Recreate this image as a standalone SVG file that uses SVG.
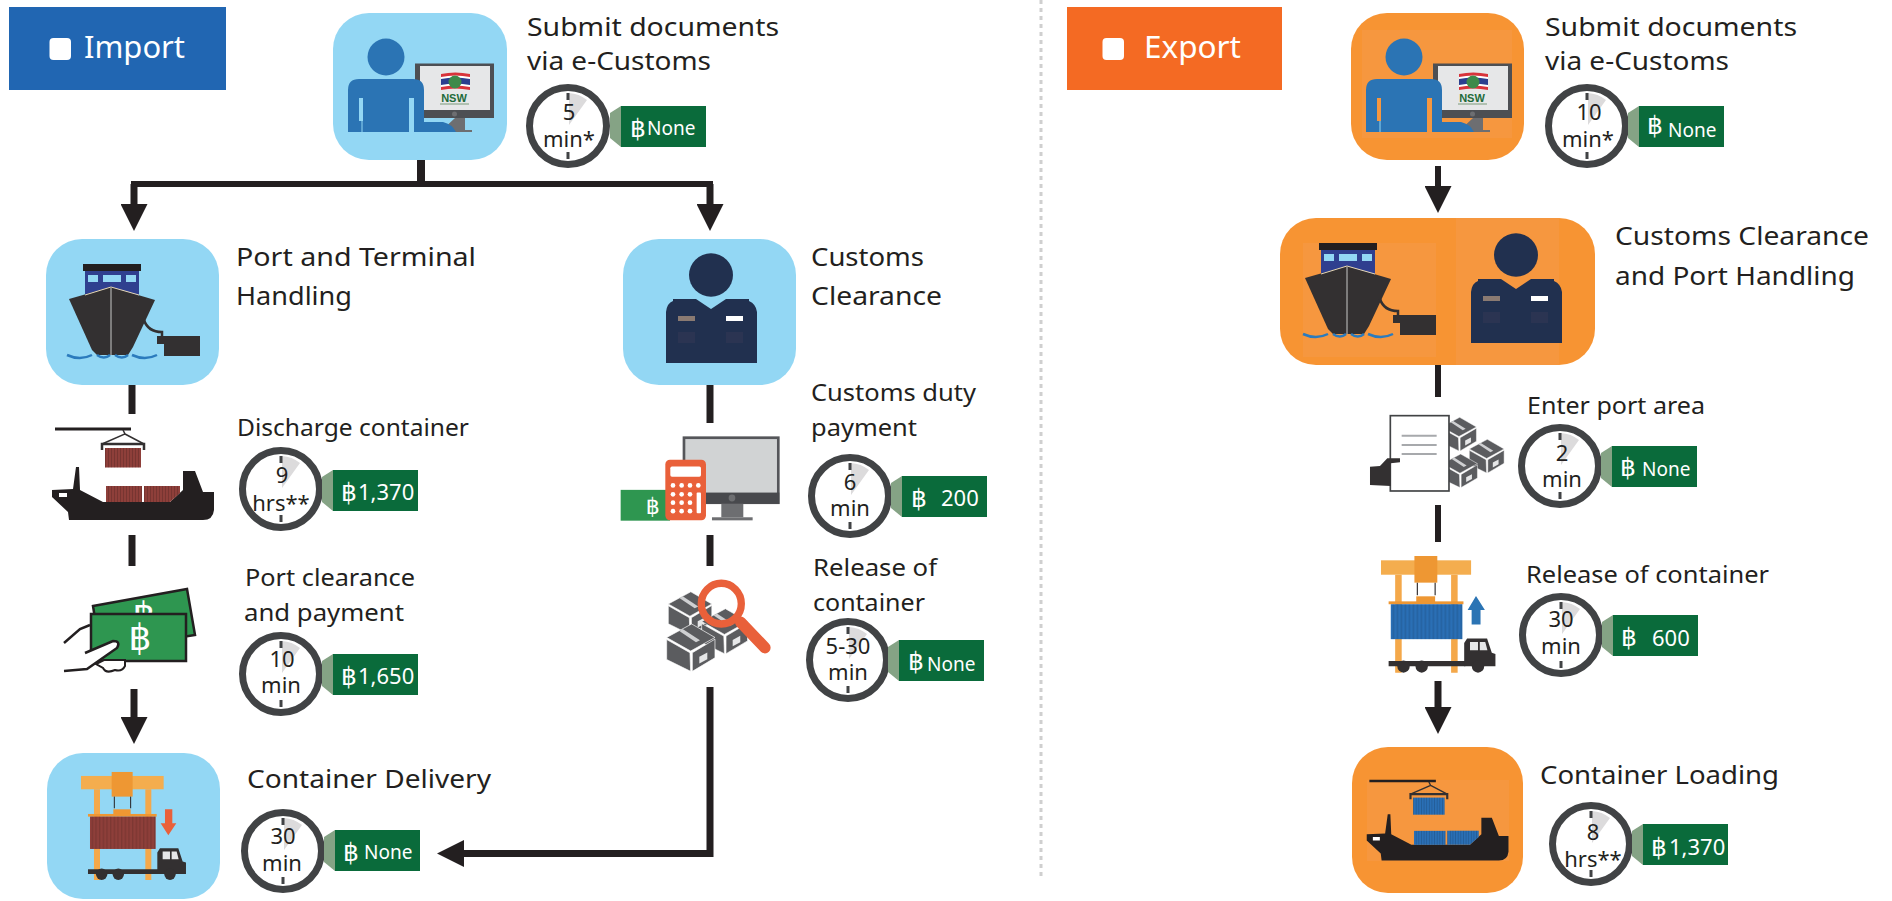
<svg xmlns="http://www.w3.org/2000/svg" width="1892" height="901" viewBox="0 0 1892 901">
<style>
text{font-family:"Noto Sans","Open Sans","DejaVu Sans",sans-serif;fill:#231f20}
.l26{font-size:26px}.l24{font-size:24px}
.badge{font-size:30px;fill:#fff}
.c{font-size:22px;text-anchor:middle}
.t{font-size:19px;fill:#fff}.n{font-size:22px;fill:#fff}
.b{font-family:"DejaVu Sans",sans-serif;font-size:25px;fill:#fff}
.blue{fill:#93d7f4}.orange{fill:#f79433}.panel{fill:#f6973f}
.conn{fill:none;stroke:#231f20;stroke-width:7}
</style>
<defs>
<marker id="arrow" viewBox="0 0 27 27" refX="0" refY="13.5" markerWidth="27" markerHeight="27" markerUnits="userSpaceOnUse" orient="auto"><path d="M0 0L27 13.5L0 27Z" fill="#231f20"/></marker>
<pattern id="ribs" width="3" height="10" patternUnits="userSpaceOnUse"><rect width="1" height="10" fill="#000" opacity=".16"/></pattern>
<pattern id="ribsBig" width="11" height="10" patternUnits="userSpaceOnUse"><rect width="4" height="10" fill="#000" opacity=".12"/></pattern>
<g id="clock"><circle r="38.5" fill="#fff" stroke="#414345" stroke-width="7"/><path d="M1 -1V-33A33 33 0 0 1 19 -26Z" fill="#dcdbdc"/><path d="M0 -33V-26M0 26V33" stroke="#414345" stroke-width="3" fill="none"/></g>
<g id="tag"><path d="M-11 7L0 0V41L-11 32Z" fill="#85a385"/><rect width="85" height="41" fill="#0a6b3b"/></g>
<g id="person">
<rect x="415" y="63.500" width="79" height="54.500" fill="#4d4f53"/><rect x="420" y="66" width="70" height="44" fill="#e6e7e8"/>
<circle cx="454.500" cy="114" r="2.500" fill="#6d6e71"/><path d="M455 118H465V130H472V132H440Z" fill="#6d6e71"/>
<path d="M441 74Q455 71 470 74V90Q455 87 441 90Z" fill="#d8333a"/><path d="M441 77Q455 74 470 77V87Q455 84 441 87Z" fill="#fff"/><path d="M441 79Q455 76 470 79V85Q455 82 441 85Z" fill="#2b3f8f"/><circle cx="455" cy="82" r="6.500" fill="#3d8a4a"/>
<text x="454" y="102" text-anchor="middle" style="font-size:11px;font-weight:700;fill:#1f6b3a;font-family:'Liberation Sans',sans-serif">NSW</text><path d="M440 104H469" stroke="#7a9a7a" stroke-width="1"/>
<circle cx="386" cy="57" r="18.500" fill="#2b74b4"/>
<path fill-rule="evenodd" d="M348 90Q348 79 359 79H413Q424 79 424 90V122H443Q452 124 456 132H414V98H409V132H348ZM359 98H363V121H359Z" fill="#2b74b4"/><path d="M362 121V132" stroke="#93d7f4" stroke-width="1"/>
</g>
<g id="shipfront">
<rect x="83" y="264" width="58" height="7" fill="#231f20"/><rect x="85" y="271" width="54" height="24" fill="#2f3f8f"/>
<rect x="88" y="275" width="10" height="7" fill="#93d7f4"/><rect x="103" y="275" width="18" height="7" fill="#93d7f4"/><rect x="126" y="275" width="10" height="7" fill="#93d7f4"/>
<path d="M111 287L155 300L133 347L128 355H97L92 350L69 299Z" fill="#333031"/><path d="M85 295L111 287L139 295" fill="none" stroke="#e8d9b8" stroke-width="1"/><path d="M111 288V355" stroke="#c9c9c9" stroke-width="1"/>
<path d="M144 320Q148 332 162 332V338" fill="none" stroke="#333031" stroke-width="2.500"/>
<path d="M157 336H200V356H164V344H157Z" fill="#333031"/>
<path d="M67 355Q80 361 92 355M97 355Q104 360 110 355M115 355Q122 360 128 355M132 355Q145 361 157 355" fill="none" stroke="#2b7bbd" stroke-width="2.500"/>
</g>
<g id="officer">
<ellipse cx="711" cy="275" rx="22" ry="21.700" fill="#21304f"/>
<path d="M666 312Q667 303 673 301V299H696L702 303L711 309L720 303L726 299H749V301Q756 304 757 312V363H666Z" fill="#21304f"/>
<rect x="678" y="316" width="17" height="5" fill="#8a7a72"/><rect x="726" y="316" width="17" height="5" fill="#fff"/>
<rect x="678" y="332" width="17" height="11" fill="#2b3452"/><rect x="726" y="332" width="17" height="11" fill="#2b3452"/>
</g>
<g id="cargoship">
<path d="M55 429H131" stroke="#231f20" stroke-width="3"/>
<path d="M123 430L125 434L102 444H144L125 434" fill="none" stroke="#333031" stroke-width="1.500"/>
<path d="M102 450V444H144V450" fill="none" stroke="#333031" stroke-width="2.500"/>
<rect x="105" y="448" width="36" height="19.500" fill="currentColor"/><rect x="105" y="448" width="36" height="19.500" fill="url(#ribs)"/>
<path d="M52 490L73 489L76 467H79L80 490L103 502H170L183 490L183 471H195L203 492H214V510Q213 520 203 520H69L68 512L52 497Z" fill="#231f20"/>
<rect x="59" y="493" width="8" height="4" fill="#fff"/>
<rect x="106" y="486" width="36" height="16" fill="currentColor"/><rect x="106" y="486" width="36" height="16" fill="url(#ribs)"/>
<path d="M144 486H180V493L170 502H144Z" fill="currentColor"/><path d="M144 486H180V493L170 502H144Z" fill="url(#ribs)"/>
</g>
<g id="crane">
<path d="M282 1168H300V1440H282ZM436 1168H454V1440H436Z" fill="#f4a84a"/>
<rect x="243" y="1128" width="248" height="40" fill="#f4ad4e"/><rect x="335" y="1116" width="63" height="74" fill="#ee9733"/>
<path d="M343 1190V1225M392 1190V1225" stroke="#231f20" stroke-width="3"/>
<path d="M340 1245V1228H392V1245Z" fill="#ee9733"/><rect x="264" y="1242" width="206" height="8" fill="#ee9733"/>
<rect x="270" y="1250" width="197" height="97" fill="currentColor"/><rect x="270" y="1250" width="197" height="97" fill="url(#ribsBig)"/>
<path d="M264 1408H475V1422H264Z" fill="#333031"/>
<path d="M472 1422V1358L480 1345H535L548 1385L558 1388V1422Z" fill="#333031"/><path d="M488 1355H510V1378H488ZM515 1355H530L536 1378H515Z" fill="#e6e7e8"/>
<circle cx="305" cy="1423" r="17" fill="#333031"/><circle cx="355" cy="1423" r="17" fill="#333031"/><circle cx="510" cy="1423" r="17" fill="#333031"/>
</g>
<g id="box" stroke="#fff" stroke-width="2">
<path d="M0 40L75 0L145 40L72 80Z" fill="#5b5c5f"/><path d="M38 21L48 15L100 48L88 54Z" fill="#cfd0d2" stroke="none"/>
<path d="M0 46L70 85L72 140L0 105Z" fill="#5b5c5f"/><path d="M77 85L145 45V100L77 140Z" fill="#5b5c5f"/>
<path d="M98 97L122 84V104L98 117Z" fill="#e6e7e8" stroke="none"/>
</g>
</defs>

<path d="M1041 0V880" stroke="#cfcfcf" stroke-width="3" stroke-dasharray="4 4" fill="none"/>

<g id="connectors" class="conn">
<path d="M421 160V184" stroke-width="8"/>
<path d="M131 184H713" stroke-width="6"/>
<path d="M134 184V204" marker-end="url(#arrow)"/>
<path d="M710 184V204" marker-end="url(#arrow)"/>
<path d="M132 385V414"/>
<path d="M132 535V566"/>
<path d="M134 689V717" marker-end="url(#arrow)"/>
<path d="M710 385V423"/>
<path d="M710 535V566"/>
<path d="M710 687V853.500H464" marker-end="url(#arrow)"/>
<path d="M1438 166V186" stroke-width="6" marker-end="url(#arrow)"/>
<path d="M1438 363V397" stroke-width="6"/>
<path d="M1438 505V542" stroke-width="6"/>
<path d="M1438 681V707" stroke-width="7" marker-end="url(#arrow)"/>
</g>

<g id="badge-import"><rect x="9" y="7" width="217" height="83" fill="#2166b2"/><rect x="49.500" y="38" width="21.500" height="22" rx="4" fill="#fff"/><text class="badge" x="84" y="58" textLength="101" lengthAdjust="spacingAndGlyphs">Import</text></g>
<g id="badge-export"><rect x="1067" y="7" width="215" height="83" fill="#f46a23"/><rect x="1102.500" y="38" width="21.500" height="22" rx="4" fill="#fff"/><text class="badge" x="1144" y="58" textLength="97" lengthAdjust="spacingAndGlyphs">Export</text></g>

<g id="import-submit"><rect class="blue" x="333" y="13" width="174" height="147" rx="36"/><use href="#person"/>
<text class="l26" x="527" y="36" textLength="252" lengthAdjust="spacingAndGlyphs">Submit documents</text><text class="l26" x="527" y="70" textLength="184" lengthAdjust="spacingAndGlyphs">via e-Customs</text>
<use href="#clock" x="568" y="126"/><text class="c" x="569" y="120">5</text><text class="c" x="569" y="147">min*</text>
<use href="#tag" x="621" y="106"/><text y="135"><tspan class="b" x="630" y="137">฿</tspan><tspan class="t" x="647" y="135">None</tspan></text></g>

<g id="import-port"><rect class="blue" x="46" y="239" width="173" height="146" rx="36"/><use href="#shipfront"/>
<text class="l26" x="236" y="266" textLength="240" lengthAdjust="spacingAndGlyphs">Port and Terminal</text><text class="l26" x="236" y="305" textLength="116" lengthAdjust="spacingAndGlyphs">Handling</text></g>

<g id="import-customs"><rect class="blue" x="623" y="239" width="173" height="146" rx="36"/><use href="#officer"/>
<text class="l26" x="811" y="266" textLength="113" lengthAdjust="spacingAndGlyphs">Customs</text><text class="l26" x="811" y="305" textLength="131" lengthAdjust="spacingAndGlyphs">Clearance</text></g>

<g id="import-discharge"><use href="#cargoship" style="color:#8e3f3a"/>
<text class="l24" x="237" y="436" textLength="232" lengthAdjust="spacingAndGlyphs">Discharge container</text>
<use href="#clock" x="281" y="489"/><text class="c" x="282" y="483">9</text><text class="c" x="281" y="511">hrs**</text>
<use href="#tag" x="333" y="470"/><text y="500"><tspan class="b" x="341" y="501">฿</tspan><tspan class="n" x="358" y="500">1,370</tspan></text></g>

<g id="import-clearance">
<path d="M93 606L187 589L195 635L100 650Z" fill="#2e9650" stroke="#231f20" stroke-width="2.500"/>
<text x="144" y="628" text-anchor="middle" style="font-family:'DejaVu Sans',sans-serif;font-size:36px;fill:#fff">฿</text>
<rect x="91" y="614" width="95" height="47" fill="#2e9650" stroke="#231f20" stroke-width="2.500"/>
<text x="140" y="650" text-anchor="middle" style="font-family:'DejaVu Sans',sans-serif;font-size:36px;fill:#fff">฿</text>
<path d="M64 643L80 629L90 625" fill="none" stroke="#231f20" stroke-width="2.500"/>
<path d="M64 671L87 669L117 648Q121 641 113 641L85 653" fill="#fff" stroke="#231f20" stroke-width="2.500"/>
<path d="M96 664L104 660H125V666Q122 672 115 670Q106 674 103 668Z" fill="#fff" stroke="#231f20" stroke-width="2"/>
<text class="l24" x="245" y="586" textLength="170" lengthAdjust="spacingAndGlyphs">Port clearance</text><text class="l24" x="244" y="621" textLength="160" lengthAdjust="spacingAndGlyphs">and payment</text>
<use href="#clock" x="281" y="674"/><text class="c" x="282" y="667">10</text><text class="c" x="281" y="693">min</text>
<use href="#tag" x="333" y="654"/><text y="684"><tspan class="b" x="341" y="685">฿</tspan><tspan class="n" x="358" y="684">1,650</tspan></text></g>

<g id="import-delivery"><rect class="blue" x="47" y="753" width="173" height="146" rx="36"/><g transform="matrix(.3333 0 0 .3333 0 400)" style="color:#8e3f3a"><use href="#crane"/><path d="M495 1228H517V1270H529L505 1306L482 1270H495Z" fill="#e9603a"/></g>
<text class="l26" x="247" y="788" textLength="244" lengthAdjust="spacingAndGlyphs">Container Delivery</text>
<use href="#clock" x="283" y="851"/><text class="c" x="283" y="844">30</text><text class="c" x="282" y="871">min</text>
<use href="#tag" x="335" y="830"/><text y="859"><tspan class="b" x="343" y="861">฿</tspan><tspan class="t" x="364" y="859">None</tspan></text></g>

<g id="import-duty"><g transform="matrix(.3333 0 0 .3386 500 370)">
<rect x="552" y="200" width="283" height="192" fill="#d1d3d4" stroke="#55565a" stroke-width="8"/><rect x="618" y="362" width="220" height="33" fill="#48494d"/><circle cx="696" cy="378" r="10" fill="#6d6e71"/><rect x="664" y="395" width="66" height="40" fill="#6d6e71"/><rect x="636" y="435" width="122" height="9" fill="#6d6e71"/>
<rect x="362" y="354" width="148" height="91" fill="#2e9650"/><text x="458" y="425" text-anchor="middle" style="font-family:'DejaVu Sans',sans-serif;font-size:66px;fill:#fff">฿</text>
<rect x="496" y="265" width="122" height="179" rx="14" fill="#e9603a"/><rect x="511" y="285" width="92" height="30" rx="5" fill="#fff"/>
<g fill="#fff"><circle cx="519" cy="341" r="7"/><circle cx="545" cy="341" r="7"/><circle cx="570" cy="341" r="7"/><circle cx="595" cy="341" r="7"/><circle cx="519" cy="367" r="7"/><circle cx="545" cy="367" r="7"/><circle cx="570" cy="367" r="7"/><circle cx="519" cy="392" r="7"/><circle cx="545" cy="392" r="7"/><circle cx="570" cy="392" r="7"/><circle cx="519" cy="417" r="7"/><circle cx="545" cy="417" r="7"/><circle cx="570" cy="417" r="7"/><rect x="590" y="362" width="13" height="61" rx="3"/></g></g>
<text class="l24" x="811" y="401" textLength="165" lengthAdjust="spacingAndGlyphs">Customs duty</text><text class="l24" x="811" y="436" textLength="106" lengthAdjust="spacingAndGlyphs">payment</text>
<use href="#clock" x="850" y="496"/><text class="c" x="850" y="490">6</text><text class="c" x="850" y="516">min</text>
<use href="#tag" x="902" y="476"/><text y="506"><tspan class="b" x="911" y="507">฿</tspan><tspan class="n" x="941" y="506">200</tspan></text></g>

<g id="import-release"><g transform="matrix(.3333 0 0 .3386 500 370)">
<use href="#box" transform="translate(505 655) scale(.9)"/><use href="#box" transform="translate(605 705) scale(.95)"/><use href="#box" transform="translate(500 750)"/>
<circle cx="664" cy="690" r="60" fill="none" stroke="#e9603a" stroke-width="22"/><path d="M722 745L795 820" stroke="#e9603a" stroke-width="34" stroke-linecap="round"/></g>
<text class="l24" x="813" y="576" textLength="124" lengthAdjust="spacingAndGlyphs">Release of</text><text class="l24" x="813" y="611" textLength="112" lengthAdjust="spacingAndGlyphs">container</text>
<use href="#clock" x="848" y="660"/><text class="c" x="848" y="654">5-30</text><text class="c" x="848" y="680">min</text>
<use href="#tag" x="899" y="640"/><text y="671"><tspan class="b" x="908" y="670">฿</tspan><tspan class="t" x="927" y="671">None</tspan></text></g>

<g id="export-submit"><rect class="orange" x="1351" y="13" width="173" height="147" rx="36"/><rect class="panel" x="1362" y="30" width="150" height="108"/><use href="#person" x="1018"/>
<text class="l26" x="1545" y="36" textLength="252" lengthAdjust="spacingAndGlyphs">Submit documents</text><text class="l26" x="1545" y="70" textLength="184" lengthAdjust="spacingAndGlyphs">via e-Customs</text>
<use href="#clock" x="1587" y="126"/><text class="c" x="1589" y="120">10</text><text class="c" x="1588" y="147">min*</text>
<use href="#tag" x="1639" y="106"/><text y="137"><tspan class="b" x="1647" y="134">฿</tspan><tspan class="t" x="1668" y="137">None</tspan></text></g>

<g id="export-clearance"><rect class="orange" x="1280" y="218" width="315" height="147" rx="36"/><rect class="panel" x="1303" y="243" width="133" height="114"/><rect class="panel" x="1456" y="218" width="103" height="147"/>
<use href="#shipfront" transform="translate(1236 -21)"/><use href="#officer" transform="translate(805 -20)"/>
<text class="l26" x="1615" y="245" textLength="254" lengthAdjust="spacingAndGlyphs">Customs Clearance</text><text class="l26" x="1615" y="285" textLength="240" lengthAdjust="spacingAndGlyphs">and Port Handling</text></g>

<g id="export-enter"><g transform="translate(1300 380) scale(.3333)">
<use href="#box" transform="translate(425 112) scale(.72)"/><use href="#box" transform="translate(508 178) scale(.72)"/><use href="#box" transform="translate(428 222) scale(.72)"/>
<rect x="271" y="107" width="176" height="226" fill="#fff" stroke="#414345" stroke-width="5"/><path d="M305 167H410M305 195H410M305 222H410" stroke="#a7a9ac" stroke-width="6"/>
<path d="M210 260L240 258L262 235H300V247L272 250V318L210 315Z" fill="#333031"/></g>
<text class="l24" x="1527" y="414" textLength="178" lengthAdjust="spacingAndGlyphs">Enter port area</text>
<use href="#clock" x="1560" y="466"/><text class="c" x="1562" y="461">2</text><text class="c" x="1562" y="487">min</text>
<use href="#tag" x="1612" y="446"/><text y="476"><tspan class="b" x="1620" y="476">฿</tspan><tspan class="t" x="1642" y="476">None</tspan></text></g>

<g id="export-release"><g transform="matrix(.3633 0 0 .36 1292.710 154.240)" style="color:#2a6fb5"><use href="#crane"/><path d="M492.500 1306V1266H481.500L504.500 1227L529 1266H517V1306Z" fill="#2b74b4"/></g>
<text class="l24" x="1526" y="583" textLength="243" lengthAdjust="spacingAndGlyphs">Release of container</text>
<use href="#clock" x="1561" y="635"/><text class="c" x="1561" y="627">30</text><text class="c" x="1561" y="654">min</text>
<use href="#tag" x="1613" y="615"/><text y="646"><tspan class="b" x="1621" y="646">฿</tspan><tspan class="n" x="1652" y="646">600</tspan></text></g>

<g id="export-loading"><rect class="orange" x="1352" y="747" width="171" height="146" rx="36"/><rect class="panel" x="1367" y="780" width="142" height="81"/>
<use href="#cargoship" transform="matrix(.875 0 0 .875 1321.240 405.620)" style="color:#2a6fb5"/>
<text class="l26" x="1540" y="784" textLength="239" lengthAdjust="spacingAndGlyphs">Container Loading</text>
<use href="#clock" x="1591" y="844"/><text class="c" x="1593" y="840">8</text><text class="c" x="1593" y="867">hrs**</text>
<use href="#tag" x="1643" y="824"/><text y="855"><tspan class="b" x="1651" y="856">฿</tspan><tspan class="n" x="1669" y="855">1,370</tspan></text></g>
</svg>
